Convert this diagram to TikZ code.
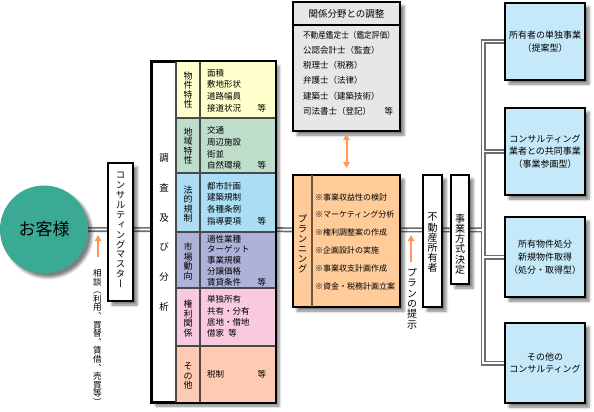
\documentclass[tikz,border=0pt]{standalone}
\usepackage{fontspec}
\usepackage{graphicx}
\newfontfamily\jp{Noto Sans CJK JP}
\newfontfamily\vjp[RawFeature={+vert}]{Noto Sans CJK JP}
\usetikzlibrary{shadows.blur,arrows.meta,backgrounds}
\definecolor{custc}{HTML}{3AAA95}
\definecolor{cy}{HTML}{FFFFCC}
\definecolor{cg}{HTML}{BEDDCB}
\definecolor{cb}{HTML}{ABDDF5}
\definecolor{cl}{HTML}{AEB2D8}
\definecolor{cp}{HTML}{F9C9DD}
\definecolor{cs}{HTML}{FFCAB2}
\definecolor{plc}{HTML}{FFCC99}
\definecolor{rbc}{HTML}{C6E9F9}
\definecolor{topc}{HTML}{E7E7E7}
\definecolor{orc}{HTML}{FF9955}
\definecolor{divc}{HTML}{4A4A4A}
\definecolor{busc}{HTML}{6E6E6E}
\definecolor{plline}{HTML}{6B5540}
\newcommand\rfill{\hskip 0pt plus 1filll}
\newcommand\buspaths[1]{%
  \draw[#1] (cust.east) -- (jn);
  \draw[#1] (rb1.west) -- (rb1.west -| jn) -- (rb4.west -| jn) -- (rb4.west);
  \draw[#1] (rb2.west) -- (rb2.west -| jn);
  \draw[#1] (rb3.west) -- (rb3.west -| jn);
}
\begin{document}
\begin{tikzpicture}[x=1pt,y=-1pt,
  shd/.style={blur shadow={shadow xshift=4pt,shadow yshift=-4pt,shadow blur radius=2.5pt,shadow opacity=50}},
  shbox/.style={shd,draw=black,line width=2pt,inner sep=0pt},
  vtxt/.style={font=\vjp\fontsize{9.5}{9.9}\selectfont,align=center,inner sep=0pt},
  vcat/.style={font=\jp\fontsize{9}{9.6}\selectfont,align=center,inner sep=0pt},
  det/.style={font=\jp\fontsize{8.5}{11.7}\selectfont,text width=59pt,align=left,inner sep=0pt},
  divl/.style={draw=divc,line width=1.2pt},
  busout/.style={draw=busc,line width=5pt},
  busin/.style={draw=white,line width=1.8pt},
  oarr/.style={draw=orc,line width=2pt,-{Triangle[length=6pt,width=6.5pt]}},
  rbox/.style={shbox,fill=rbc,minimum width=80pt,align=center,font=\jp\fontsize{9}{12.7}\selectfont},
]
\useasboundingbox (0,0) rectangle (594,412);

% customer
\node[circle,shd,fill=custc,minimum size=88pt,inner sep=0pt,font=\jp\fontsize{17}{17}\selectfont] (cust) at (44,229.5) {お客様};

% consulting master
\node[shbox,fill=white,minimum width=25pt,minimum height=138pt] (cm) at (120.5,232) {};
\node[vtxt] (cmt) at (120.5,230) {コ\\ン\\サ\\ル\\テ\\ィ\\ン\\グ\\マ\\ス\\タ\\ー};

% survey box
\node[shbox,fill=white,minimum width=123pt,minimum height=340pt] (sv) at (213.5,232) {};
\fill[cy] (176,62) rectangle (275,118);
\fill[cg] (176,118) rectangle (275,173);
\fill[cb] (176,173) rectangle (275,232);
\fill[cl] (176,232) rectangle (275,288);
\fill[cp] (176,288) rectangle (275,346);
\fill[cs] (176,346) rectangle (275,402);
\draw[divl] (176,62) -- (176,402);
\draw[divl] (200,62) -- (200,402);
\foreach \yy in {118,173,232,288,346} {\draw[divl] (176,\yy) -- (275,\yy);}
\draw[line width=2pt] (sv.north west) rectangle (sv.south east);
\node[font=\jp\fontsize{9.5}{29.8}\selectfont,align=center,inner sep=0pt] (svt) at (164,232.5) {調\\査\\及\\び\\分\\析};
\node[vcat] (k1) at (188,90) {物\\件\\特\\性};
\node[vcat] (k2) at (188,146) {地\\域\\特\\性};
\node[vcat] (k3) at (188,204) {法\\的\\規\\制};
\node[vcat] (k4) at (188,261.5) {市\\場\\動\\向};
\node[vcat] (k5) at (188,318.5) {権\\利\\関\\係};
\node[vcat] (k6) at (188,376) {そ\\の\\他};
\node[det] (d1) at (236.5,90.5) {面積\\敷地形状\\道路幅員\\接道状況\rfill 等};
\node[det] (d2) at (236.5,148) {交通\\周辺施設\\街並\\自然環境\rfill 等};
\node[det] (d3) at (236.5,203.5) {都市計画\\建築規制\\各種条例\\指導要項\rfill 等};
\node[det,font=\jp\fontsize{8.5}{10.8}\selectfont] (d4) at (236.5,260.5) {適性業種\\ターゲット\\事業規模\\分譲価格\\賃貸条件\rfill 等};
\node[det,font=\jp\fontsize{8.5}{11.3}\selectfont] (d5) at (236.5,316.5) {単独所有\\共有・分有\\底地・借地\\借家\enspace 等};
\node[det] (d6) at (236.5,374) {税制\rfill 等};

% top box
\node[shbox,fill=topc,minimum width=107pt,minimum height=129pt] (tb) at (346.5,66.5) {};
\draw[line width=1.5pt] (293,25) -- (400,25);
\node[font=\jp\fontsize{9.5}{10}\selectfont,inner sep=0pt] (tbh) at (346.5,14) {関係分野との調整};
\node[font=\jp\fontsize{8.5}{15.2}\selectfont,text width=90pt,align=left,inner sep=0pt] (tbl) at (348,73)
  {\scalebox{0.9}[1]{不動産鑑定士（鑑定評価）}\\公認会計士（監査）\\税理士（税務）\\弁護士（法律）\\建築士（建築技術）\\司法書士（登記）\rfill 等};

% planning
\node[shbox,fill=plc,minimum width=107pt,minimum height=132pt] (pl) at (346.5,241) {};
\draw[line width=1.5pt,draw=plline] (312,175) -- (312,307);
\node[vtxt] (plv) at (302.5,244) {プ\\ラ\\ン\\ニ\\ン\\グ};
\node[font=\jp\fontsize{8}{17.8}\selectfont,text width=81pt,align=left,inner sep=0pt] (pli) at (355.5,241.5)
  {※事業収益性の検討\\※マーケティング分析\\※権利調整案の作成\\※企画設計の実施\\※事業収支計画作成\\※資金・税務計画立案};

% owner and decision
\node[shbox,line width=1.5pt,fill=white,minimum width=19pt,minimum height=132pt] (ow) at (432.5,241) {};
\node[vtxt,font=\vjp\fontsize{10}{10.2}\selectfont] (owt) at (432.5,243) {不\\動\\産\\所\\有\\者};
\node[shbox,line width=1.5pt,fill=white,minimum width=18pt,minimum height=109pt] (dc) at (460,229.5) {};
\node[vtxt,font=\vjp\fontsize{10}{10.2}\selectfont] (dct) at (460,244) {事\\業\\方\\式\\決\\定};

% right boxes
\node[rbox,minimum height=77pt] (rb1) at (545,41.5) {所有者の単独事業\\（提案型）};
\node[rbox,minimum height=87pt] (rb2) at (545,151.5) {コンサルティング\\業者との共同事業\\（事業参画型）};
\node[rbox,minimum height=80pt] (rb3) at (545,257) {所有物件処分\\新規物件取得\\（処分・取得型）};
\node[rbox,minimum height=80pt] (rb4) at (545,363) {その他の\\コンサルティング};

% connectors
\coordinate (jn) at (483,230);
\begin{scope}[on background layer]
  \buspaths{busout}
  \buspaths{busin}
\end{scope}

% orange arrows and labels
\coordinate (a1s) at (98,257);
\coordinate (a1e) at (98,235);
\draw[oarr] (a1s) -- (a1e);
\node[vtxt,font=\vjp\fontsize{8.6}{8.6}\selectfont,anchor=north] (l1) at (97.5,269)
  {相\\談\\（\\利\\用\\、\\買\\替\\、\\賃\\借\\、\\売\\買\\等\\）};
\coordinate (a2s) at (411,262);
\coordinate (a2e) at (411,235);
\draw[oarr] (a2s) -- (a2e);
\node[vtxt,font=\vjp\fontsize{10}{10.4}\selectfont,anchor=north] (l2) at (412,268) {プ\\ラ\\ン\\の\\提\\示};
\draw[draw=orc,line width=2pt,{Triangle[length=6pt,width=6.5pt]}-{Triangle[length=6pt,width=6.5pt]},shorten <=2pt,shorten >=6pt] (tb.south) -- (pl.north);
\end{tikzpicture}
\end{document}
